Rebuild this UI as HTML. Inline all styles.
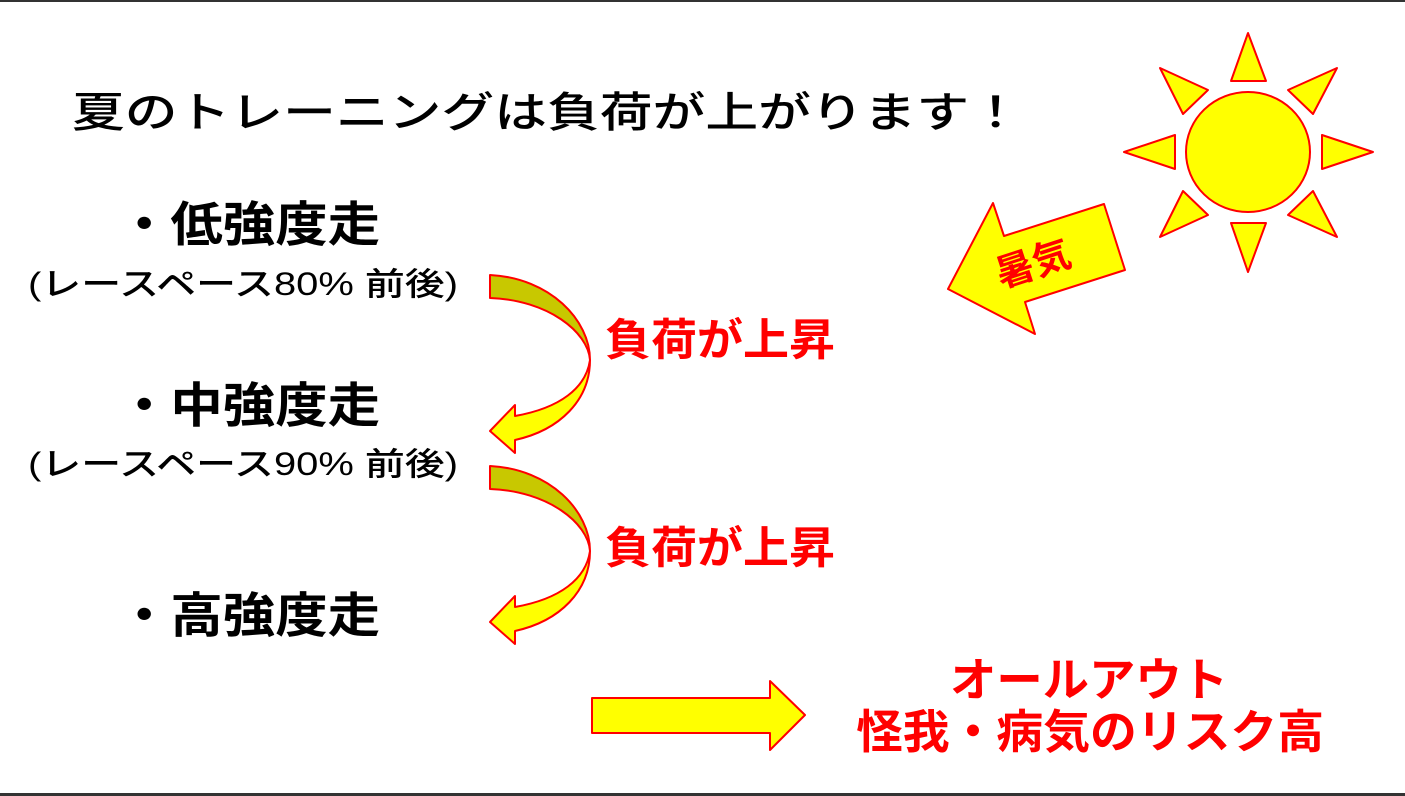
<!DOCTYPE html>
<html><head><meta charset="utf-8"><style>
html,body{margin:0;padding:0;background:#fff;}
svg{display:block;}
text{font-family:"Liberation Sans","Noto Sans CJK JP",sans-serif;}
</style></head><body>
<svg width="1405" height="796" viewBox="0 0 1405 796" xmlns="http://www.w3.org/2000/svg">
<rect x="0" y="0" width="1405" height="2" fill="#333"/>
<rect x="0" y="793" width="1405" height="3" fill="#333"/>

<text x="72" y="127" font-size="42" fill="#000" font-weight="500" textLength="950" lengthAdjust="spacingAndGlyphs">夏のトレーニングは負荷が上がります！</text>

<text x="118" y="241" font-size="48" fill="#000" font-weight="600" textLength="262" lengthAdjust="spacingAndGlyphs">・低強度走</text>
<text x="28" y="295" font-size="32" fill="#000" font-weight="500" textLength="430" lengthAdjust="spacingAndGlyphs">(レースペース80% 前後)</text>
<text x="118" y="422" font-size="48" fill="#000" font-weight="600" textLength="262" lengthAdjust="spacingAndGlyphs">・中強度走</text>
<text x="28" y="475" font-size="32" fill="#000" font-weight="500" textLength="430" lengthAdjust="spacingAndGlyphs">(レースペース90% 前後)</text>
<text x="118" y="632" font-size="48" fill="#000" font-weight="600" textLength="262" lengthAdjust="spacingAndGlyphs">・高強度走</text>

<text x="605" y="355" font-size="44" fill="#f00" font-weight="bold" textLength="230" lengthAdjust="spacingAndGlyphs">負荷が上昇</text>
<text x="605" y="563" font-size="44" fill="#f00" font-weight="bold" textLength="230" lengthAdjust="spacingAndGlyphs">負荷が上昇</text>

<text x="950" y="696" font-size="46" fill="#f00" font-weight="bold" textLength="278" lengthAdjust="spacingAndGlyphs">オールアウト</text>
<text x="856" y="748" font-size="46" fill="#f00" font-weight="bold" textLength="468" lengthAdjust="spacingAndGlyphs">怪我・病気のリスク高</text>

<g stroke="#f00" stroke-width="2" stroke-linejoin="round">
  <path d="M490,275 C550,278 590,320 590,360 C588,332 548,300 490,298 Z" fill="#c8c800"/>
  <path d="M590,360 C590,400 560,430 515,440 L515,453 L490,431 L515,405 L515,416 C560,408 586,388 590,360 Z" fill="#ffff00"/>
</g>
<g stroke="#f00" stroke-width="2" stroke-linejoin="round" transform="translate(0,191)">
  <path d="M490,275 C550,278 590,320 590,360 C588,332 548,300 490,298 Z" fill="#c8c800"/>
  <path d="M590,360 C590,400 560,430 515,440 L515,453 L490,431 L515,405 L515,416 C560,408 586,388 590,360 Z" fill="#ffff00"/>
</g>

<path d="M592,698 L770,698 L770,681 L805,715 L770,750 L770,733 L592,733 Z" fill="#ffff00" stroke="#f00" stroke-width="2" stroke-linejoin="round"/>

<path d="M948,289 L993,203 L1004,236 L1104,204 L1125,270 L1025,302 L1035,334 Z" fill="#ffff00" stroke="#f00" stroke-width="2" stroke-linejoin="round"/>
<text x="1033" y="277" font-size="38" fill="#f00" font-weight="bold" text-anchor="middle" transform="rotate(-18 1033 263)">暑気</text>

<g fill="#ffff00" stroke="#f00" stroke-width="2" stroke-linejoin="round">
  <ellipse cx="1248" cy="152" rx="62" ry="60"/>
  <polygon points="1248,33 1231,81 1266,81"/>
  <polygon points="1248,272 1231,223 1266,223"/>
  <polygon points="1124,152 1175,135 1175,169"/>
  <polygon points="1373,152 1322,135 1322,169"/>
  <polygon points="1160,68 1208,90 1183,114"/>
  <polygon points="1337,68 1288,90 1313,114"/>
  <polygon points="1160,237 1183,191 1208,215"/>
  <polygon points="1337,237 1313,191 1288,215"/>
</g>
</svg>
</body></html>
